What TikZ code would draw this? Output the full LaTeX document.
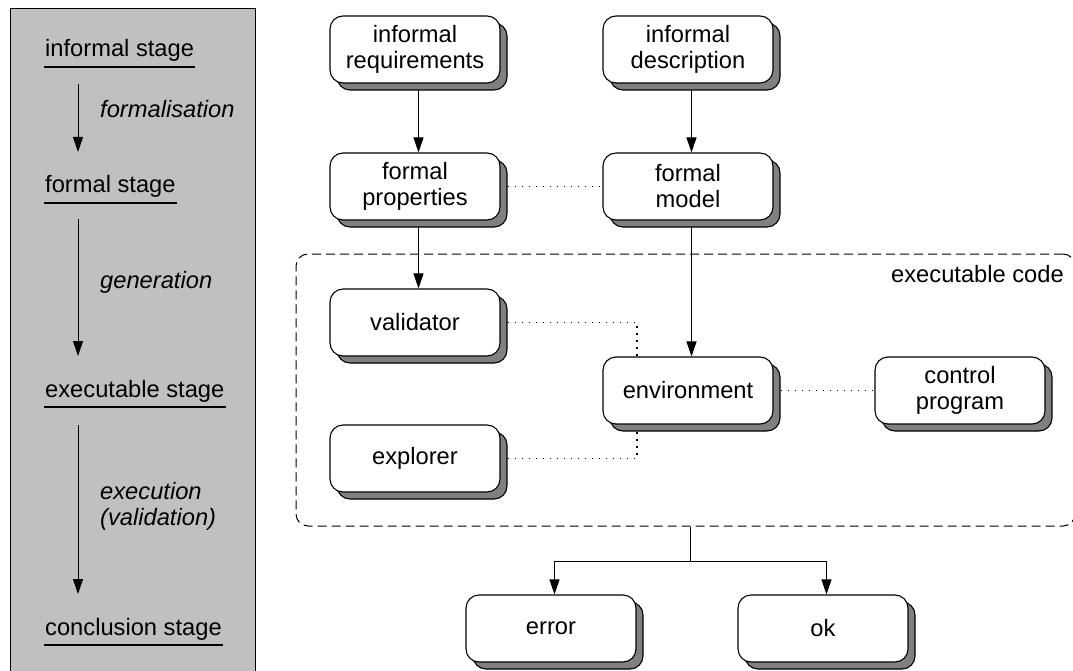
\documentclass[tikz,border=0pt]{standalone}
\usepackage{fontspec}
\setmainfont{Liberation Sans}
\usetikzlibrary{arrows.meta,calc,backgrounds}
\definecolor{panelgrey}{RGB}{192,192,192}
\definecolor{shadowgrey}{RGB}{128,128,128}
\begin{document}
\begin{tikzpicture}[x=1pt,y=-1pt,
  font=\fontsize{23.7pt}{26pt}\selectfont,
  box/.style={draw=black, line width=1.1pt, fill=white, rounded corners=13pt,
    minimum width=170pt, minimum height=67pt, inner sep=0pt, align=center,
    preaction={draw=black, fill=shadowgrey, transform canvas={shift={(7pt,-7pt)}}}},
  stage/.style={anchor=base west, inner sep=0pt},
  phase/.style={anchor=base west, inner sep=0pt, font=\fontsize{23.7pt}{26pt}\selectfont\itshape},
  uline/.style={line width=2pt},
  arr/.style={line width=1pt, -{Triangle[length=15pt,width=10pt]}},
  link/.style={line width=1pt},
  dots/.style={line width=1.3pt, dash pattern=on 1.5pt off 5.5pt},
  codeframe/.style={draw, line width=1pt, dash pattern=on 9pt off 5pt,
    rounded corners=12pt, inner sep=0pt}
]
\useasboundingbox (0,0) rectangle (1073,671);

% ---- stage panel on the left ----
\draw[fill=panelgrey, line width=1pt] (10.5,9) rectangle (255,700);

\node[stage] (s1) at (45,57)  {informal stage};
\node[stage] (s2) at (45,193) {formal stage};
\node[stage] (s3) at (45,397) {executable stage};
\node[stage] (s4) at (45,635) {conclusion stage};
\foreach \s in {s1,s2,s3,s4}
  \draw[uline] ($(\s.base west)+(-1,10)$) -- ($(\s.base east)+(1,10)$);

\node[phase] (p1) at (100,118) {formalisation};
\node[phase] (p2) at (100,288) {generation};
\node[phase] (p3) at (100,499) {execution};
\node[phase] (p3b) at (100,525) {(validation)};

\coordinate (a1s) at (78,84);  \coordinate (a1e) at (78,152);
\coordinate (a2s) at (78,219); \coordinate (a2e) at (78,356);
\coordinate (a3s) at (78,425); \coordinate (a3e) at (78,594);
\draw[arr] (a1s) -- (a1e);
\draw[arr] (a2s) -- (a2e);
\draw[arr] (a3s) -- (a3e);

% ---- boxes ----
\node[box] (ireq)   at (415,49.5)  {informal\\requirements};
\node[box] (idesc)  at (688,49.5)  {informal\\description};
\node[box] (fprop)  at (415,186.5) {formal\\properties};
\node[box] (fmodel) at (688,186.5) {formal\\model};
\node[box] (valid)  at (415,322.5) {validator};
\node[box] (explo)  at (415,458.5) {explorer};
\node[box] (envir)  at (688,390.5) {environment};
\node[box] (ctrl)   at (960,390.5) {control\\program};
\node[box] (err)    at (551,628.5) {error};
\node[box] (okb)    at (823,628.5) {ok};

% dashed frame around the executable code
\node[codeframe, minimum width=779pt, minimum height=272pt] (code) at (685.5,390) {};
\node[anchor=base east, inner sep=0pt] (codelbl) at (1064,282) {executable code};

% ---- connectors (behind the boxes and their shadows) ----
\coordinate (vtap) at (637,322.5);
\coordinate (etap) at (637,458.5);
\coordinate (split) at (690.5,561);
\begin{scope}[on background layer]
  \draw[arr] ([xshift=3.5pt]ireq.south) -- ([xshift=3.5pt]fprop.north);
  \draw[arr] ([xshift=3.5pt]idesc.south) -- ([xshift=3.5pt]fmodel.north);
  \draw[arr] ([xshift=3.5pt]fprop.south) -- ([xshift=3.5pt]valid.north);
  \draw[arr] ([xshift=3.5pt]fmodel.south) -- ([xshift=3.5pt]envir.north);

  \draw[dots] (fprop.east) -- (fmodel.west);
  \draw[dots] (envir.east) -- (ctrl.west);
  \draw[dots] (valid.east) -- (vtap) -- (vtap |- envir.north);
  \draw[dots] (explo.east) -- (etap) -- (etap |- envir.south);

  \draw[link] (split |- code.south) -- (split);
  \draw[arr] (split) -| ([xshift=3.5pt]err.north);
  \draw[arr] (split) -| ([xshift=3.5pt]okb.north);
\end{scope}
\end{tikzpicture}
\end{document}
